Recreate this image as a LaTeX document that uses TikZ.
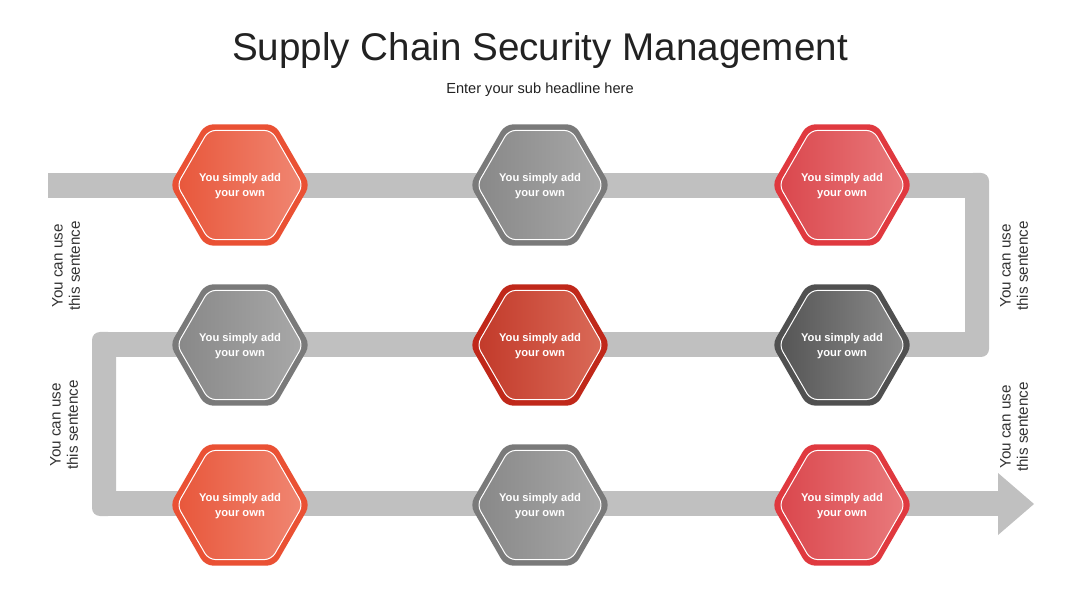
\documentclass[tikz,border=0pt]{standalone}
\usepackage{fontspec}
\setmainfont{Liberation Sans}
\usetikzlibrary{positioning}
\definecolor{cInk}{HTML}{222222}
\definecolor{cInk2}{HTML}{333333}
\definecolor{cBand}{HTML}{C0C0C0}
% rim, left and right tone of each hexagon colour
\definecolor{coralRim}{HTML}{EA5134}\definecolor{coralL}{HTML}{E8573B}\definecolor{coralR}{HTML}{F08672}
\definecolor{greyRim}{HTML}{7A7A7A}\definecolor{greyL}{HTML}{888888}\definecolor{greyR}{HTML}{A8A8A8}
\definecolor{roseRim}{HTML}{E0393F}\definecolor{roseL}{HTML}{DA474D}\definecolor{roseR}{HTML}{E97A7C}
\definecolor{brickRim}{HTML}{C0281A}\definecolor{brickL}{HTML}{C23A2A}\definecolor{brickR}{HTML}{DA6A58}
\definecolor{slateRim}{HTML}{505050}\definecolor{slateL}{HTML}{555555}\definecolor{slateR}{HTML}{8C8C8C}
\tikzset{
  band/.style={fill=cBand},
  hexrim/.style={fill=#1Rim, rounded corners=4pt},
  hexcore/.style={left color=#1L, right color=#1R, draw=white, line width=0.5pt,
    rounded corners=3.5pt},
  hextext/.style={text=white, align=center, inner sep=0pt,
    font=\fontsize{5.6}{7.5}\selectfont\bfseries},
  sidenote/.style={font=\fontsize{7.6}{8.6}\selectfont, text=cInk2, align=center, rotate=90},
}
% a flat-topped hexagon of circumradius #1 round the origin
\newcommand{\hexpath}[1]{(0:#1) -- (60:#1) -- (120:#1) -- (180:#1) -- (240:#1) -- (300:#1) -- cycle}

\begin{document}
\begin{tikzpicture}[x=0.5pt, y=-0.5pt]
\useasboundingbox[fill=white] (0,0) rectangle (1080,608);
% ======================================================= the winding band
\fill[band] (48,173) rectangle (977,198);
\fill[band, rounded corners=4pt] (965,173) rectangle (989,357);
\fill[band] (104,332) rectangle (977,357);
\fill[band, rounded corners=4pt] (92,332) rectangle (116,516);
\fill[band] (104,491) rectangle (998,516);
\fill[band] (998,473) -- (1034,504) -- (998,535) -- cycle;

% ================================================================ titles
\node[anchor=base, font=\fontsize{19.3}{23}\selectfont, text=cInk] (title) at (540,61)
  {Supply Chain Security Management};
\node[anchor=base, font=\fontsize{7.3}{9}\selectfont, text=cInk] (subtitle) at (540,94)
  {Enter your sub headline here};

% ============================================================== hexagons
\foreach \n/\cx/\cy/\tone in {h11/240/185/coral, h12/540/185/grey, h13/842/185/rose,
    h21/240/345/grey, h22/540/345/brick, h23/842/345/slate,
    h31/240/505/coral, h32/540/505/grey, h33/842/505/rose} {
  \begin{scope}[shift={(\cx,\cy)}]
    \fill[hexrim=\tone] \hexpath{70};
    \path[hexcore=\tone] \hexpath{63};
  \end{scope}
  \node[hextext] (\n) at (\cx,\cy+1) {You simply add\\your own};
}

% ============================================================ side notes
\node[sidenote] (noteA) at (66,266) {You can use\\this sentence};
\node[sidenote] (noteB) at (64,425) {You can use\\this sentence};
\node[sidenote] (noteC) at (1014,266) {You can use\\this sentence};
\node[sidenote] (noteD) at (1014,427) {You can use\\this sentence};
\end{tikzpicture}
\end{document}
